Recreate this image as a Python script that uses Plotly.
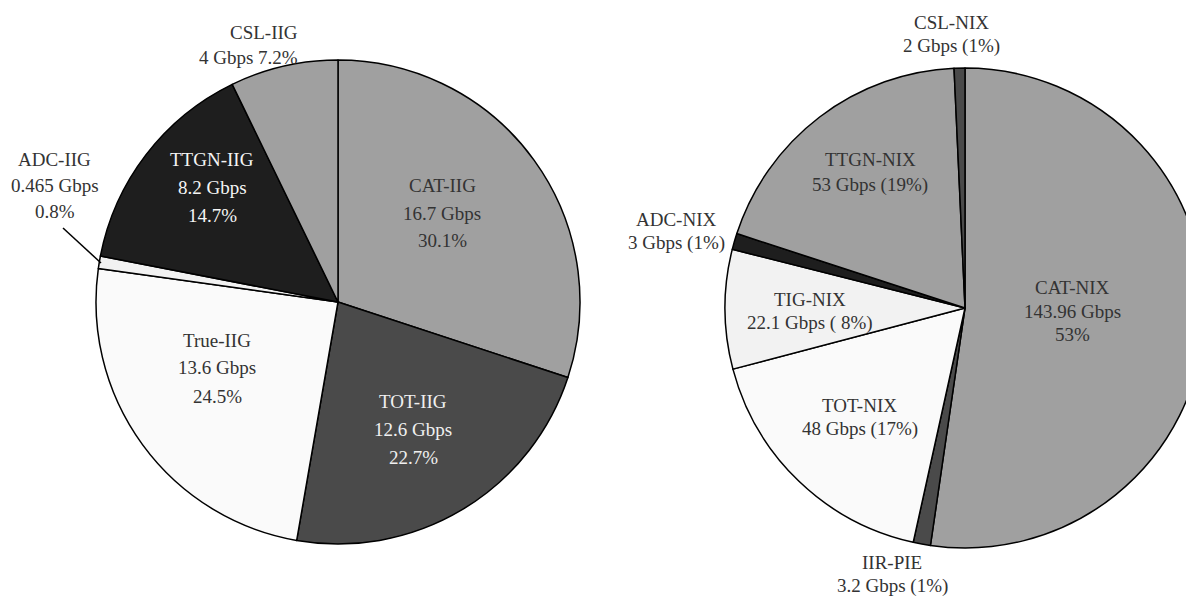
import plotly.graph_objects as go

# figure is wider than the window on purpose: the right pie is cut by the window edge
W, H = 1230, 603
OFF = 8  # page body margin in the viewer

# ---- data ----
iig_labels = ["CAT-IIG", "TOT-IIG", "True-IIG", "ADC-IIG", "TTGN-IIG", "CSL-IIG"]
iig_gbps = [16.7, 12.6, 13.6, 0.465, 8.2, 4]
iig_gbps_text = ["16.7 Gbps", "12.6 Gbps", "13.6 Gbps", "0.465 Gbps", "8.2 Gbps", "4 Gbps"]
iig_pct_text = ["30.1%", "22.7%", "24.5%", "0.8%", "14.7%", "7.2%"]

nix_labels = ["CAT-NIX", "IIR-PIE", "TOT-NIX", "TIG-NIX", "ADC-NIX", "TTGN-NIX", "CSL-NIX"]
nix_gbps = [143.96, 3.2, 48, 22.1, 3, 53, 2]
nix_gbps_text = ["143.96 Gbps", "3.2 Gbps", "48 Gbps", "22.1 Gbps", "3 Gbps", "53 Gbps", "2 Gbps"]
nix_pct_text = ["53%", "(1%)", "(17%)", "( 8%)", "(1%)", "(19%)", "(1%)"]

# ---- styles ----
iig_colors = ["#a0a0a0", "#4a4a4a", "#fafafa", "#f2f2f2", "#1e1e1e", "#a0a0a0"]
nix_colors = ["#a0a0a0", "#4a4a4a", "#fafafa", "#f2f2f2", "#1e1e1e", "#a0a0a0", "#4a4a4a"]
FONT = "Liberation Serif"
FS = 19
DARK = "#333333"


def px(x, y):
    x -= OFF
    y -= OFF
    return x / W, 1 - y / H


def dom(cx, cy, r):
    cx -= OFF
    cy -= OFF
    return dict(x=[(cx - r) / W, (cx + r) / W], y=[1 - (cy + r) / H, 1 - (cy - r) / H])


fig = go.Figure()
fig.add_trace(go.Pie(
    labels=iig_labels, values=iig_gbps, sort=False, direction="clockwise", rotation=0,
    marker=dict(colors=iig_colors, line=dict(color="black", width=1.5)),
    textinfo="none", hoverinfo="label+value+percent", showlegend=False,
    domain=dom(338, 302, 242),
))
fig.add_trace(go.Pie(
    labels=nix_labels, values=nix_gbps, sort=False, direction="clockwise", rotation=0,
    marker=dict(colors=nix_colors, line=dict(color="black", width=1.5)),
    textinfo="none", hoverinfo="label+value+percent", showlegend=False,
    domain=dom(965, 308, 240),
))

annots = []


def add_lines(lines, x, ys, color=DARK, xanchor="center"):
    for t, y in zip(lines, ys):
        ax, ay = px(x, y)
        annots.append(dict(x=ax, y=ay, xref="paper", yref="paper", text=t, showarrow=False,
                           xanchor=xanchor, yanchor="middle",
                           font=dict(family=FONT, size=FS, color=color)))


# left pie labels
add_lines([iig_labels[0], iig_gbps_text[0], iig_pct_text[0]], 442, [185, 213, 240])
add_lines([iig_labels[1], iig_gbps_text[1], iig_pct_text[1]], 413, [401, 429, 457], color="#f0f0f0")
add_lines([iig_labels[2], iig_gbps_text[2], iig_pct_text[2]], 217, [340, 368, 396])
add_lines([iig_labels[3], iig_gbps_text[3], iig_pct_text[3]], 55, [159, 185, 211])
add_lines([iig_labels[4], iig_gbps_text[4], iig_pct_text[4]], 212, [160, 188, 215], color="#f5f5f5")
add_lines([iig_labels[5], iig_gbps_text[5] + " " + iig_pct_text[5]], 300, [32, 58], xanchor="right")

# right pie labels
add_lines([nix_labels[0], nix_gbps_text[0], nix_pct_text[0]], 1072, [287, 311, 334])
add_lines([nix_labels[1], nix_gbps_text[1] + " " + nix_pct_text[1]], 892, [562, 586])
add_lines([nix_labels[2], nix_gbps_text[2] + " " + nix_pct_text[2]], 860, [405, 429])
add_lines([nix_labels[3], nix_gbps_text[3] + " " + nix_pct_text[3]], 810, [299, 323])
add_lines([nix_labels[4], nix_gbps_text[4] + " " + nix_pct_text[4]], 676, [219, 243])
add_lines([nix_labels[5], nix_gbps_text[5] + " " + nix_pct_text[5]], 870, [160, 185])
add_lines([nix_labels[6], nix_gbps_text[6] + " " + nix_pct_text[6]], 951, [22, 46])

x0, y0 = px(63, 228)
x1, y1 = px(101, 263)
fig.update_layout(
    width=W, height=H, margin=dict(l=0, r=0, t=0, b=0),
    paper_bgcolor="white", plot_bgcolor="white",
    annotations=annots,
    shapes=[dict(type="line", xref="paper", yref="paper", x0=x0, y0=y0, x1=x1, y1=y1,
                 line=dict(color="black", width=1.5))],
)
fig.write_html("out.html")
